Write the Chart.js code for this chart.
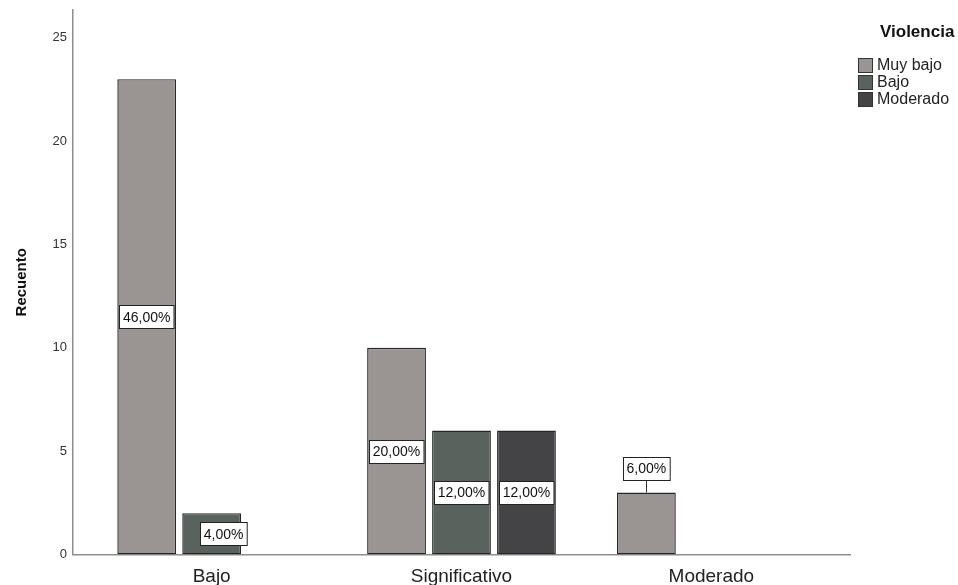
<!DOCTYPE html>
<html>
<head>
<meta charset="utf-8">
<script src="https://cdn.jsdelivr.net/npm/chart.js@4.4.0/dist/chart.umd.min.js"></script>
<style>
  html, body { margin: 0; padding: 0; background: #fff; }
  #wrap { width: 958px; height: 585px; }
</style>
</head>
<body>
<div id="wrap"><canvas id="grafico"></canvas></div>
<script>
// Datos
const categorias = ['Bajo', 'Significativo', 'Moderado'];
const series = ['Muy bajo', 'Bajo', 'Moderado'];
const muyBajo = [23, 10, 3];
const bajo = [2, 6, 0];
const moderado = [0, 6, 0];
const yTicks = [0, 5, 10, 15, 20, 25];
const yMax = 26.35;

const valores = [muyBajo, bajo, moderado];
const colores = ['#9a9493', '#59625d', '#444446'];
const total = valores.flat().reduce((a, b) => a + b, 0);
const fuente = '"Liberation Sans", Arial, sans-serif';
const margenEje = 0.055; // espacio antes/después de los grupos, en categorías

// Etiquetas de porcentaje en cajas blancas
const etiquetasCaja = {
    id: 'etiquetasCaja',
    afterDatasetsDraw(chart) {
        const ctx = chart.ctx;
        ctx.save();
        ctx.font = '14px ' + fuente;
        ctx.textAlign = 'center';
        ctx.textBaseline = 'middle';
        chart.data.datasets.forEach((ds, di) => {
            chart.getDatasetMeta(di).data.forEach((bar, i) => {
                const v = ds.data[i];
                if (!v) return;
                const txt = (v / total * 100).toFixed(2).replace('.', ',') + '%';
                const w = ctx.measureText(txt).width + 7;
                const h = 23;
                const alto = bar.base - bar.y;
                let cx = bar.x, cy = bar.y + alto / 2;
                let linea = false;
                if (alto < 50) {
                    cx += 12; // se desplaza para no tapar la barra
                } else if (alto < 80) {
                    cy = bar.y - 13 - h / 2; // encima, con línea guía
                    linea = true;
                }
                if (linea) {
                    ctx.strokeStyle = '#333';
                    ctx.lineWidth = 1;
                    ctx.beginPath();
                    ctx.moveTo(Math.round(cx) + 0.5, cy + h / 2);
                    ctx.lineTo(Math.round(cx) + 0.5, bar.y);
                    ctx.stroke();
                }
                const x0 = Math.round(cx - w / 2) + 0.5, y0 = Math.round(cy - h / 2) + 0.5;
                ctx.fillStyle = '#fff';
                ctx.fillRect(x0, y0, w, h);
                ctx.strokeStyle = '#222';
                ctx.lineWidth = 1;
                ctx.strokeRect(x0, y0, w, h);
                ctx.fillStyle = '#111';
                ctx.fillText(txt, cx, cy + 1);
            });
        });
        ctx.restore();
    }
};

// Leyenda a la derecha (título + cajas)
const leyenda = {
    id: 'leyenda',
    afterDraw(chart) {
        const ctx = chart.ctx;
        const x0 = chart.chartArea.right + 8;
        ctx.save();
        ctx.textBaseline = 'middle';
        ctx.fillStyle = '#111';
        ctx.font = 'bold 17px ' + fuente;
        ctx.fillText('Violencia', x0 + 22, 32);
        ctx.font = '16px ' + fuente;
        chart.data.datasets.forEach((ds, i) => {
            const y = 58 + i * 17;
            ctx.fillStyle = ds.backgroundColor;
            ctx.fillRect(x0, y, 14, 14);
            ctx.strokeStyle = '#333';
            ctx.lineWidth = 1;
            ctx.strokeRect(x0 + 0.5, y + 0.5, 14, 14);
            ctx.fillStyle = '#222';
            ctx.fillText(ds.label, x0 + 19, y + 8);
        });
        ctx.restore();
    }
};

const chart = new Chart(document.getElementById('grafico').getContext('2d'), {
    type: 'bar',
    data: {
        labels: categorias,
        datasets: series.map((nombre, k) => ({
            label: nombre,
            data: valores[k],
            backgroundColor: colores[k],
            borderColor: '#262626',
            borderWidth: c => (c.raw ? 1.4 : 0),
            borderSkipped: false,
            categoryPercentage: 0.78,
            barPercentage: 0.905
        }))
    },
    options: {
        responsive: true,
        maintainAspectRatio: false,
        animation: false,
        layout: { padding: { top: 10, left: 13, right: 108, bottom: 0 } },
        plugins: {
            legend: { display: false },
            tooltip: { enabled: false }
        },
        scales: {
            x: {
                border: { color: '#8e8e8e', width: 1.5 },
                grid: { display: false, drawTicks: false },
                ticks: { padding: 11, color: '#222', font: { family: fuente, size: 19 } },
                afterBuildTicks: s => {
                    s._startValue = -0.5 - margenEje;
                    s._valueRange = categorias.length + 2 * margenEje;
                },
                afterFit: s => { s.height = 30.5; }
            },
            y: {
                min: 0,
                max: yMax,
                border: { color: '#8e8e8e', width: 1.5 },
                grid: { display: false, drawTicks: false },
                ticks: { padding: 6, color: '#333', font: { family: fuente, size: 13 } },
                afterBuildTicks: s => { s.ticks = yTicks.map(v => ({ value: v })); },
                title: {
                    display: true,
                    text: 'Recuento',
                    color: '#111',
                    font: { family: fuente, size: 15, weight: 'bold' },
                    padding: { top: 0, bottom: 0 }
                },
                afterFit: s => {
                    s.width = 60;
                    s.paddingTop = 0;
                    s.paddingBottom = 0;
                }
            }
        }
    },
    plugins: [etiquetasCaja, leyenda]
});
</script>
</body>
</html>
